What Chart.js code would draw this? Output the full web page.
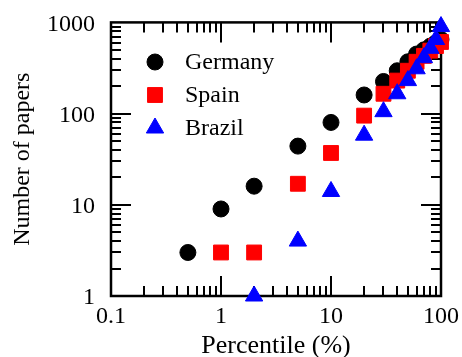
<!DOCTYPE html>
<html>
<head>
<meta charset="utf-8">
<script src="https://cdn.jsdelivr.net/npm/chart.js@4/dist/chart.umd.min.js"></script>
<style>
  html, body { margin: 0; padding: 0; background: #fff; }
  canvas { display: block; }
</style>
</head>
<body>
<canvas id="papersChart" width="462" height="357"></canvas>
<script>
const percentiles = [0.5, 1, 2, 5, 10, 20, 30, 40, 50, 60, 70, 80, 90, 100];
const germany = [3, 9, 16, 44, 80, 160, 225, 295, 370, 450, 500, 550, 600, 650];
const spain   = [null, 3, 3, 17, 37, 95, 165, 230, 295, 370, 430, 490, 550, 610];
const brazil  = [null, null, 1, 4, 14, 58, 105, 165, 230, 310, 410, 520, 650, 900];
const seriesNames = ["Germany", "Spain", "Brazil"];
const xTicks = [0.1, 1, 10, 100];
const yTicks = [1, 10, 100, 1000];

const serif = "'Liberation Serif', 'DejaVu Serif', serif";

function points(values) {
    return percentiles
        .map((p, i) => ({ x: p, y: values[i] }))
        .filter(pt => pt.y !== null);
}

const styles = [
    { pointStyle: "circle", radius: 8, color: "#000000" },
    { pointStyle: "rect", radius: 10.5, color: "#ff0000" },
    { pointStyle: "triangle", radius: 10, color: "#0000ff" },
];

// frame with inward ticks on all four sides, plus the legend inside the plot
const framePlugin = {
    id: "frame",
    beforeDatasetsDraw(chart) {
        const { ctx, chartArea: a, scales: { x, y } } = chart;
        ctx.save();
        ctx.strokeStyle = "#000";
        ctx.lineWidth = 2;
        ctx.beginPath();
        for (let d = 0.1; d < 100; d *= 10) {
            for (let k = 1; k <= 9; k++) {
                const px = Math.round(x.getPixelForValue(d * k));
                const len = k === 1 ? 20 : 10;
                ctx.moveTo(px, a.bottom); ctx.lineTo(px, a.bottom - len);
                ctx.moveTo(px, a.top); ctx.lineTo(px, a.top + len);
            }
        }
        for (let d = 1; d < 1000; d *= 10) {
            for (let k = 1; k <= 9; k++) {
                const py = Math.round(y.getPixelForValue(d * k));
                const len = k === 1 ? 20 : 10;
                ctx.moveTo(a.left, py); ctx.lineTo(a.left + len, py);
                ctx.moveTo(a.right, py); ctx.lineTo(a.right - len, py);
            }
        }
        ctx.stroke();
        ctx.lineWidth = 2.5;
        ctx.strokeRect(a.left, a.top, a.right - a.left, a.bottom - a.top);
        ctx.restore();
    },
    afterDatasetsDraw(chart) {
        const { ctx } = chart;
        ctx.save();
        ctx.font = "24px " + serif;
        ctx.textBaseline = "middle";
        seriesNames.forEach((name, i) => {
            const s = styles[i];
            const cy = 62 + i * 33;
            ctx.fillStyle = s.color;
            ctx.strokeStyle = s.color;
            Chart.helpers.drawPoint(ctx, {
                pointStyle: s.pointStyle, radius: s.radius, rotation: 0, borderWidth: 1
            }, 155, cy);
            ctx.fillStyle = "#000";
            ctx.fillText(name, 185, cy + 1);
        });
        ctx.restore();
    }
};

new Chart(document.getElementById("papersChart"), {
    type: "scatter",
    data: {
        datasets: [germany, spain, brazil].map((vals, i) => ({
            label: seriesNames[i],
            data: points(vals),
            pointStyle: styles[i].pointStyle,
            pointRadius: styles[i].radius,
            pointHoverRadius: styles[i].radius,
            backgroundColor: styles[i].color,
            borderColor: styles[i].color,
            borderWidth: 1,
            clip: false,
            order: 3 - i,
        })),
    },
    options: {
        responsive: false,
        animation: false,
        devicePixelRatio: 1,
        layout: { padding: { top: 17, right: 21, left: 0, bottom: 0 } },
        plugins: { legend: { display: false }, tooltip: { enabled: false } },
        scales: {
            x: {
                type: "logarithmic",
                min: 0.1,
                max: 100,
                grid: { display: false },
                border: { display: false },
                afterBuildTicks: s => { s.ticks = xTicks.map(v => ({ value: v })); },
                afterFit: s => { s.height = 61; },
                ticks: {
                    color: "#000",
                    font: { family: serif, size: 24 },
                    padding: -2,
                    maxRotation: 0,
                    autoSkip: false,
                    callback: v => String(v),
                },
                title: {
                    display: true,
                    text: "Percentile (%)",
                    color: "#000",
                    font: { family: serif, size: 26, lineHeight: 0.8 },
                    padding: { top: 0, bottom: 0 },
                },
            },
            y: {
                type: "logarithmic",
                min: 1,
                max: 1000,
                grid: { display: false },
                border: { display: false },
                afterBuildTicks: s => { s.ticks = yTicks.map(v => ({ value: v })); },
                afterFit: s => { s.width = 111; },
                ticks: {
                    color: "#000",
                    font: { family: serif, size: 24 },
                    padding: 8,
                    labelOffset: 2,
                    autoSkip: false,
                    callback: v => String(v),
                },
                title: {
                    display: true,
                    text: "Number of papers",
                    color: "#000",
                    font: { family: serif, size: 24, lineHeight: 1 },
                    padding: { top: 11, bottom: 0 },
                },
            },
        },
    },
    plugins: [framePlugin],
});
</script>
</body>
</html>
